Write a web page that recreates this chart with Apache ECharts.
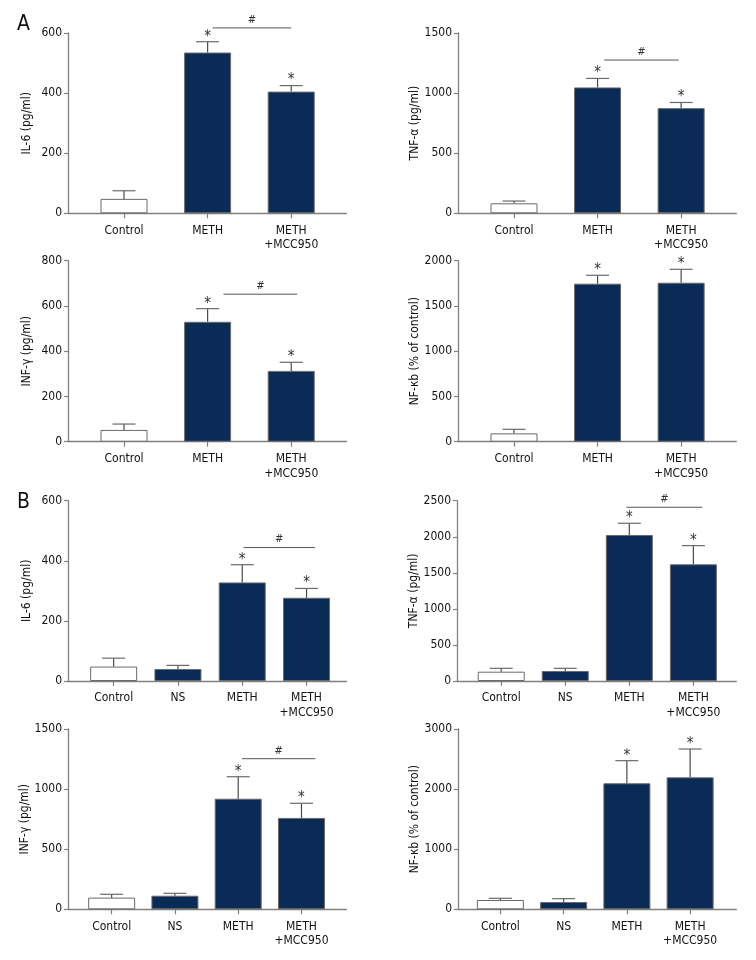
<!DOCTYPE html>
<html><head><meta charset="utf-8">
<script src="https://cdn.jsdelivr.net/npm/echarts@6/dist/echarts.min.js"></script>
<style>html,body{margin:0;padding:0;background:#fff}#c{width:756px;height:960px}</style>
</head><body><div id="c"></div>
<script>
// ---------- categories ----------
const catsA = ['Control', 'METH', 'METH\n+MCC950'];
const catsB = ['Control', 'NS', 'METH', 'METH\n+MCC950'];

// ---------- Panel A values (mean, SE) ----------
const aIL6 = [48, 535, 405];
const aIL6Err = [27, 36, 20];
const aTNF = [83, 1047, 875];
const aTNFErr = [19, 75, 47];
const aINF = [52, 530, 313];
const aINFErr = [26, 58, 38];
const aNFkb = [92, 1746, 1757];
const aNFkbErr = [45, 93, 148];
const starsA = [0, 1, 1];

// ---------- Panel B values (mean, SE) ----------
const bIL6 = [48, 40, 328, 277];
const bIL6Err = [28, 12, 59, 31];
const bTNF = [129, 139, 2025, 1618];
const bTNFErr = [47, 37, 162, 259];
const bINF = [97, 113, 920, 760];
const bINFErr = [28, 20, 183, 122];
const bNFkb = [155, 121, 2097, 2196];
const bNFkbErr = [28, 56, 376, 471];
const starsB = [0, 0, 1, 1];

// ---------- significance brackets [fromCategory, toCategory, yValue] ----------
const sigAIL6 = [1.06, 2.0, 617];
const sigATNF = [1.08, 1.97, 1275];
const sigAINF = [1.19, 2.07, 652];
const sigBIL6 = [2.02, 3.13, 444];
const sigBTNF = [1.955, 3.14, 2409];
const sigBINF = [2.06, 3.22, 1253];

// ---------- y axis ticks [min, max, interval] ----------
const yTicksAIL6 = [0, 600, 200];
const yTicksATNF = [0, 1500, 500];
const yTicksAINF = [0, 800, 200];
const yTicksANFkb = [0, 2000, 500];
const yTicksBIL6 = [0, 600, 200];
const yTicksBTNF = [0, 2500, 500];
const yTicksBINF = [0, 1500, 500];
const yTicksBNFkb = [0, 3000, 1000];

const FONT = "'Liberation Sans Narrow', 'DejaVu Sans Condensed', 'Liberation Sans', sans-serif";
const NAVY = '#0a2b55';
const AXIS = '#808080';
const TXT = '#111';

const panels = [
  {g:{left:68, top:33, width:278.4, height:180.3}, cats:catsA, v:aIL6, e:aIL6Err, s:starsA, y:yTicksAIL6, name:'IL-6 (pg/ml)', sig:sigAIL6, xr:[-0.67, 2.66]},
  {g:{left:458, top:33, width:278.3, height:180.3}, cats:catsA, v:aTNF, e:aTNFErr, s:starsA, y:yTicksATNF, name:'TNF-α (pg/ml)', sig:sigATNF, xr:[-0.67, 2.66]},
  {g:{left:68, top:260.7, width:278.4, height:181}, cats:catsA, v:aINF, e:aINFErr, s:starsA, y:yTicksAINF, name:'INF-γ (pg/ml)', sig:sigAINF, xr:[-0.67, 2.66]},
  {g:{left:458, top:260.7, width:278.3, height:181}, cats:catsA, v:aNFkb, e:aNFkbErr, s:starsA, y:yTicksANFkb, name:'NF-κb (% of control)', sig:null, xr:[-0.67, 2.66]},
  {g:{left:68, top:500.7, width:278.4, height:180.3}, cats:catsB, v:bIL6, e:bIL6Err, s:starsB, y:yTicksBIL6, name:'IL-6 (pg/ml)', sig:sigBIL6, xr:[-0.71, 3.62]},
  {g:{left:457, top:500.7, width:279.3, height:180.3}, cats:catsB, v:bTNF, e:bTNFErr, s:starsB, y:yTicksBTNF, name:'TNF-α (pg/ml)', sig:sigBTNF, xr:[-0.69, 3.67]},
  {g:{left:68, top:729, width:278.4, height:180.3}, cats:catsB, v:bINF, e:bINFErr, s:starsB, y:yTicksBINF, name:'INF-γ (pg/ml)', sig:sigBINF, xr:[-0.69, 3.71]},
  {g:{left:458, top:729, width:278.3, height:180.3}, cats:catsB, v:bNFkb, e:bNFkbErr, s:starsB, y:yTicksBNFkb, name:'NF-κb (% of control)', sig:null, xr:[-0.67, 3.73]}
];

function renderErr(params, api) {
  const x = api.value(0), m = api.value(1), e = api.value(2), st = api.value(3);
  const p0 = api.coord([x, m]);
  const p1 = api.coord([x, m + e]);
  const half = 11.5;
  const ch = [
    {type:'line', shape:{x1:p0[0], y1:p0[1], x2:p1[0], y2:p1[1]}, style:{stroke:'#4a4a4a', lineWidth:1.2}},
    {type:'line', shape:{x1:p1[0]-half, y1:p1[1], x2:p1[0]+half, y2:p1[1]}, style:{stroke:'#6a6a6a', lineWidth:1.2}}
  ];
  if (st) ch.push({type:'text', style:{text:'*', x:p1[0], y:p1[1]-5, align:'center', verticalAlign:'middle', font:'15px ' + FONT, fill:'#333'}});
  return {type:'group', children:ch};
}
function renderSig(params, api) {
  const a = api.coord([api.value(0), api.value(2)]);
  const b = api.coord([api.value(1), api.value(2)]);
  return {type:'group', children:[
    {type:'line', shape:{x1:a[0], y1:a[1], x2:b[0], y2:b[1]}, style:{stroke:'#555', lineWidth:1}},
    {type:'text', style:{text:'#', x:(a[0]+b[0])/2, y:a[1]-8, align:'center', verticalAlign:'middle', font:'11px ' + FONT, fill:'#333'}}
  ]};
}

const grid = [], xAxis = [], yAxis = [], series = [];
panels.forEach((p, i) => {
  grid.push(Object.assign({outerBoundsMode:'none', containLabel:false}, p.g));
  const idx = p.cats.map((c, k) => k);
  const cats = p.cats;
  xAxis.push({
    type:'value', gridIndex:i, min:p.xr[0], max:p.xr[1],
    axisLine:{show:true, onZero:false, lineStyle:{color:AXIS, width:1.3}},
    axisTick:{show:true, customValues:idx, length:5, lineStyle:{color:AXIS, width:1.2}},
    axisLabel:{customValues:idx, formatter:(v) => cats[Math.round(v)], margin:10, fontFamily:FONT, fontSize:12, color:TXT, lineHeight:14.5},
    splitLine:{show:false}
  });
  yAxis.push({
    type:'value', gridIndex:i, min:p.y[0], max:p.y[1], interval:p.y[2],
    name:p.name, nameLocation:'middle', nameGap:35,
    nameTextStyle:{fontFamily:FONT, fontSize:12, color:TXT},
    axisLine:{show:true, onZero:false, lineStyle:{color:AXIS, width:1.3}},
    axisTick:{show:true, length:4, lineStyle:{color:AXIS, width:1.2}},
    axisLabel:{margin:6, fontFamily:FONT, fontSize:12, color:TXT, formatter:(v) => String(v)},
    splitLine:{show:false}
  });
  series.push({
    type:'bar', xAxisIndex:i, yAxisIndex:i, barWidth:47, silent:true,
    data:p.v.map((val, k) => ({value:[k, val], itemStyle:{color: k === 0 ? '#ffffff' : NAVY, borderColor:'#6a6a6a', borderWidth:1}}))
  });
  series.push({
    type:'custom', xAxisIndex:i, yAxisIndex:i, clip:false, silent:true, z:5,
    encode:{x:0, y:1},
    renderItem:renderErr,
    data:p.v.map((val, k) => [k, val, p.e[k], p.s[k]])
  });
  if (p.sig) {
    series.push({
      type:'custom', xAxisIndex:i, yAxisIndex:i, clip:false, silent:true, z:5,
      encode:{x:[0,1], y:2},
      renderItem:renderSig,
      data:[p.sig]
    });
  }
});

const chart = echarts.init(document.getElementById('c'), null, {renderer:'canvas'});
chart.setOption({
  animation:false,
  backgroundColor:'#fff',
  title:[
    {text:'A', left:12, top:9, textStyle:{fontFamily:FONT, fontSize:21, fontWeight:'normal', color:'#111'}},
    {text:'B', left:12, top:487, textStyle:{fontFamily:FONT, fontSize:21, fontWeight:'normal', color:'#111'}}
  ],
  grid, xAxis, yAxis, series
});
</script>
</body></html>
